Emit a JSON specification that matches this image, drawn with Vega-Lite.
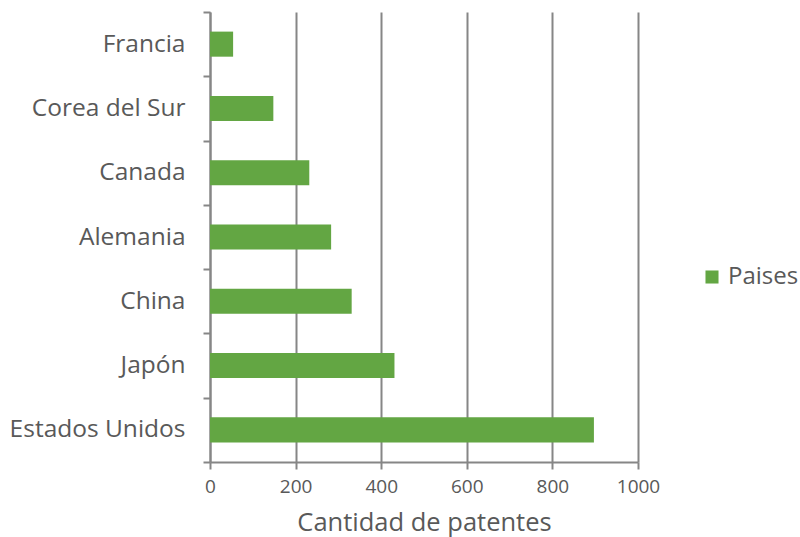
{
  "$schema": "https://vega.github.io/schema/vega-lite/v6.json",
  "autosize": "none",
  "width": 428,
  "height": 450,
  "padding": {"left": 210, "top": 12, "right": 162, "bottom": 75},
  "background": "white",
  "config": {"view": {"stroke": null}, "font": "Open Sans"},
  "data": {"values": [
    {"pais": "Francia", "patentes": 54, "serie": "Paises"},
    {"pais": "Corea del Sur", "patentes": 148, "serie": "Paises"},
    {"pais": "Canada", "patentes": 232, "serie": "Paises"},
    {"pais": "Alemania", "patentes": 283, "serie": "Paises"},
    {"pais": "China", "patentes": 331, "serie": "Paises"},
    {"pais": "Japón", "patentes": 431, "serie": "Paises"},
    {"pais": "Estados Unidos", "patentes": 897, "serie": "Paises"}
  ]},
  "mark": {"type": "bar", "height": {"band": 0.39}},
  "encoding": {
    "y": {
      "field": "pais", "type": "nominal", "sort": null,
      "scale": {"paddingInner": 0, "paddingOuter": 0},
      "axis": {
        "title": null, "tickBand": "extent", "grid": false,
        "domainColor": "#868686", "domainWidth": 2, "tickColor": "#868686", "tickWidth": 2, "tickSize": 7,
        "labelFontSize": 24.5, "labelColor": "#595959", "labelPadding": 18, "labelFont": "Open Sans"
      }
    },
    "x": {
      "field": "patentes", "type": "quantitative",
      "scale": {"domain": [0, 1000], "nice": false},
      "axis": {
        "values": [0, 200, 400, 600, 800, 1000], "format": "d", "title": "Cantidad de patentes",
        "labelFlush": false,
        "grid": true, "gridColor": "#868686", "gridWidth": 2,
        "domainColor": "#868686", "domainWidth": 2, "tickColor": "#868686", "tickWidth": 2, "tickSize": 7,
        "labelFontSize": 19, "labelColor": "#595959", "labelPadding": 8, "labelFont": "Open Sans",
        "titleFontSize": 25.5, "titleColor": "#595959", "titleFontWeight": "normal", "titlePadding": 14, "titleFont": "Open Sans"
      }
    },
    "color": {
      "field": "serie", "type": "nominal",
      "scale": {"range": ["#63A643"]},
      "legend": {
        "title": null, "orient": "none", "legendX": 490, "legendY": 253, "padding": 0,
        "symbolType": "square", "symbolSize": 170, "symbolStrokeWidth": 0, "labelOffset": 4,
        "labelFontSize": 24, "labelColor": "#595959", "labelFont": "Open Sans"
      }
    }
  }
}
